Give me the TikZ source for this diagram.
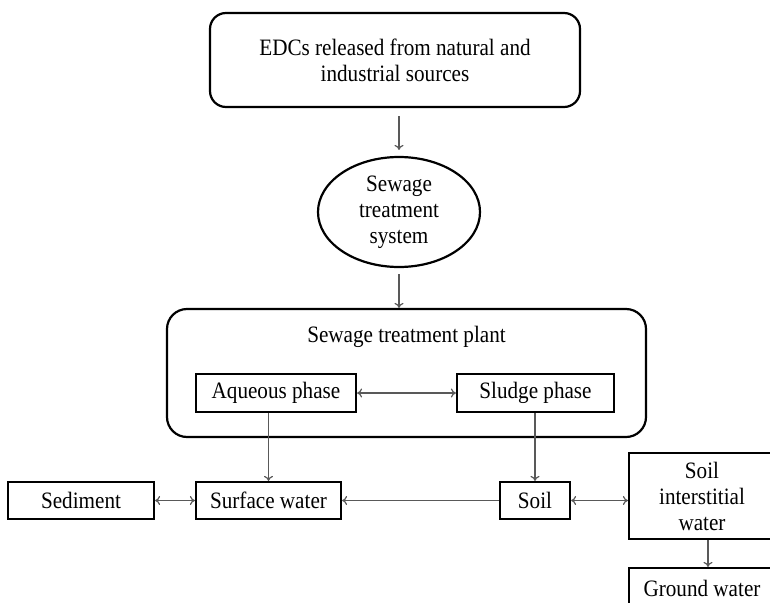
\documentclass[tikz,border=0pt]{standalone}
\usepackage{fontspec}
\setmainfont{Liberation Serif}[FakeStretch=0.9]
\usetikzlibrary{shapes.geometric,arrows.meta}
\begin{document}
\begin{tikzpicture}[x=1pt,y=-1pt,
  txt/.style={font=\fontsize{23.5}{26}\selectfont, align=center, inner sep=0pt},
  sqbox/.style={txt, draw=black, line width=2.2pt},
  rbox/.style={txt, draw=black, line width=2.2pt, rounded corners=16pt},
  conn/.style={draw=black!65, line width=1.2pt, -{To[length=5pt,width=9pt]}},
  dconn/.style={draw=black!65, line width=1.2pt, {To[length=5pt,width=9pt]}-{To[length=5pt,width=9pt]}}]
\useasboundingbox (0,0) rectangle (770,602);
\clip (0,0) rectangle (770,602);
\fill[white] (0,0) rectangle (770,602);
% nodes
\node[rbox, minimum width=370pt, minimum height=94pt] (top) at (395,60) {EDCs released from natural and\\industrial sources};
\node[txt, draw=black, line width=2.2pt, ellipse, minimum width=162pt, minimum height=110pt] (ell) at (399,212) {Sewage\\treatment\\system};
\node[draw=black, line width=2.2pt, rounded corners=20pt, minimum width=479pt, minimum height=128pt, inner sep=0pt] (plant) at (406.5,373) {};
\node[txt] (title) at (406.5,337) {Sewage treatment plant};
\node[sqbox, minimum width=160pt, minimum height=38pt] (aq) at (276,393) {Aqueous phase};
\node[sqbox, minimum width=157pt, minimum height=38pt] (sl) at (535.5,393) {Sludge phase};
\node[sqbox, minimum width=146pt, minimum height=37pt] (sed) at (81,500.5) {Sediment};
\node[sqbox, minimum width=145pt, minimum height=37pt] (sw) at (268.5,500.5) {Surface water};
\node[sqbox, minimum width=70pt, minimum height=37pt] (soil) at (535,500.5) {Soil};
\node[sqbox, minimum width=146pt, minimum height=86pt] (si) at (702,496) {Soil\\interstitial\\water};
\node[sqbox, minimum width=146pt, minimum height=40pt] (gw) at (702,588) {Ground water};
% connectors
\draw[conn, shorten <=8pt, shorten >=6pt] (top.south -| ell.north) -- (ell.north);
\draw[conn, shorten <=6pt] (ell.south) -- (ell.south |- plant.north);
\draw[dconn] (aq.east) -- (sl.west);
\draw[conn] (aq.south -| sw.north) -- (sw.north);
\draw[conn] (sl.south -| soil.north) -- (soil.north);
\draw[dconn] (sed.east) -- (sw.west);
\draw[conn] (soil.west) -- (sw.east);
\draw[dconn] (soil.east) -- (soil.east -| si.west);
\draw[conn] ([xshift=6pt]si.south) -- ([xshift=6pt]gw.north);
\end{tikzpicture}
\end{document}
